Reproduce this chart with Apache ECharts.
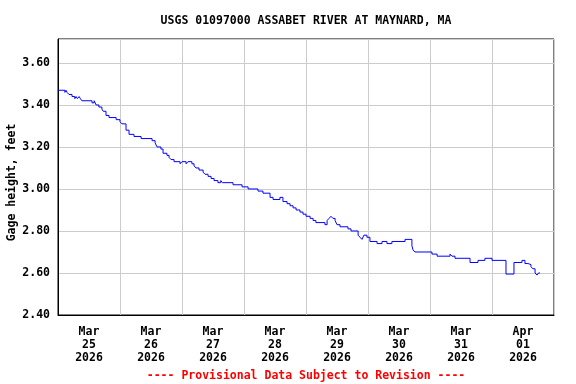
<!DOCTYPE html>
<html><head><meta charset="utf-8">
<script src="https://cdn.jsdelivr.net/npm/echarts@6/dist/echarts.min.js"></script>
<style>html,body{margin:0;padding:0;background:#fff}#c{width:576px;height:384px}</style>
</head><body><div id="c"></div>
<script>
const titleText = 'USGS 01097000 ASSABET RIVER AT MAYNARD, MA';
const footText = '---- Provisional Data Subject to Revision ----';
const yAxisName = 'Gage height, feet';
const yTicks = [2.40, 2.60, 2.80, 3.00, 3.20, 3.40, 3.60];
const dayLabels = ['2026-03-25','2026-03-26','2026-03-27','2026-03-28','2026-03-29','2026-03-30','2026-03-31','2026-04-01'];
const monthNames = ['Jan','Feb','Mar','Apr','May','Jun','Jul','Aug','Sep','Oct','Nov','Dec'];

const times = [
'2026-03-25T00:00','2026-03-25T02:40','2026-03-25T03:05','2026-03-25T03:30','2026-03-25T04:15','2026-03-25T05:25',
'2026-03-25T06:30','2026-03-25T07:00','2026-03-25T07:30','2026-03-25T08:10','2026-03-25T08:40','2026-03-25T09:15',
'2026-03-25T13:10','2026-03-25T14:00','2026-03-25T14:45','2026-03-25T15:50','2026-03-25T17:00','2026-03-25T17:30',
'2026-03-25T18:35','2026-03-25T19:45','2026-03-25T22:30','2026-03-26T00:00','2026-03-26T00:45','2026-03-26T02:20',
'2026-03-26T03:30','2026-03-26T05:25','2026-03-26T08:10','2026-03-26T12:25','2026-03-26T13:35','2026-03-26T14:20',
'2026-03-26T15:50','2026-03-26T16:40','2026-03-26T18:10','2026-03-26T19:00','2026-03-26T19:45','2026-03-26T20:55',
'2026-03-26T23:15','2026-03-27T00:00','2026-03-27T01:35','2026-03-27T02:20','2026-03-27T03:50','2026-03-27T04:40',
'2026-03-27T05:25','2026-03-27T06:35','2026-03-27T08:10','2026-03-27T08:55','2026-03-27T10:05','2026-03-27T11:15',
'2026-03-27T12:25','2026-03-27T13:55','2026-03-27T15:00','2026-03-27T15:40','2026-03-27T19:45','2026-03-27T23:15',
'2026-03-28T01:35','2026-03-28T05:25','2026-03-28T07:20','2026-03-28T10:05','2026-03-28T11:15','2026-03-28T13:55',
'2026-03-28T15:05','2026-03-28T16:40','2026-03-28T17:50','2026-03-28T19:00','2026-03-28T20:10','2026-03-28T21:40',
'2026-03-28T22:50','2026-03-29T00:00','2026-03-29T01:35','2026-03-29T02:45','2026-03-29T03:50','2026-03-29T07:20',
'2026-03-29T08:10','2026-03-29T08:55','2026-03-29T09:40','2026-03-29T10:25','2026-03-29T11:15','2026-03-29T12:00',
'2026-03-29T13:10','2026-03-29T16:15','2026-03-29T17:25','2026-03-29T20:10','2026-03-29T20:55','2026-03-29T21:40',
'2026-03-29T22:25','2026-03-29T23:35','2026-03-30T00:45','2026-03-30T03:30','2026-03-30T05:25','2026-03-30T07:20',
'2026-03-30T09:15','2026-03-30T14:20','2026-03-30T17:00','2026-03-30T17:25','2026-03-30T18:10','2026-03-31T00:45',
'2026-03-31T02:45','2026-03-31T07:45','2026-03-31T08:30','2026-03-31T09:40','2026-03-31T15:30','2026-03-31T18:35',
'2026-03-31T21:15','2026-04-01T00:00','2026-04-01T05:25','2026-04-01T08:30','2026-04-01T11:35','2026-04-01T12:45',
'2026-04-01T13:55','2026-04-01T15:05','2026-04-01T15:50','2026-04-01T16:40','2026-04-01T17:25','2026-04-01T18:00',
'2026-04-01T18:35'
];
const gage = [
3.47,3.46,3.47,3.46,3.45,3.44,
3.43,3.44,3.43,3.44,3.43,3.42,
3.41,3.42,3.40,3.39,3.38,3.37,
3.35,3.34,3.33,3.32,3.31,3.28,
3.26,3.25,3.24,3.23,3.22,3.20,
3.19,3.17,3.16,3.15,3.14,3.13,
3.12,3.13,3.12,3.13,3.12,3.11,
3.10,3.09,3.08,3.07,3.06,3.05,
3.04,3.03,3.04,3.03,3.02,3.01,
3.00,2.99,2.98,2.96,2.95,2.96,
2.94,2.93,2.92,2.91,2.90,2.89,
2.88,2.87,2.86,2.85,2.84,2.83,
2.85,2.86,2.87,2.86,2.85,2.83,
2.82,2.81,2.80,2.78,2.77,2.76,
2.78,2.77,2.75,2.74,2.75,2.74,
2.75,2.76,2.73,2.71,2.70,2.69,
2.68,2.69,2.68,2.67,2.65,2.66,
2.67,2.66,2.595,2.65,2.66,2.645,
2.64,2.63,2.62,2.60,2.59,2.60,
2.60
];

const DAY = 86400000;
const toMs = s => Date.parse(s + (s.length <= 10 ? 'T00:00' : '') + ':00Z');
const xStart = toMs(dayLabels[0]);
const xEnd = xStart + (dayLabels.length) * DAY;
const labelNoons = dayLabels.map(d => toMs(d) + DAY / 2);
const seriesData = times.map((t, i) => [toMs(t), gage[i]]);

const FONT = 'DejaVu Sans Mono';
const txt = { fontFamily: FONT, fontWeight: 'bold', fontSize: 11.5, color: '#000' };

const chart = echarts.init(document.getElementById('c'), null, { renderer: 'canvas' });
chart.setOption({
  animation: false,
  backgroundColor: '#fff',
  title: [
    { text: titleText, left: 306, top: 15, textAlign: 'center', padding: 0,
      textStyle: Object.assign({}, txt, { lineHeight: 12 }) },
    { text: footText, left: 306, top: 370, textAlign: 'center', padding: 0,
      textStyle: Object.assign({}, txt, { color: '#ff0000', lineHeight: 12 }) }
  ],
  grid: { left: 58, right: 22, top: 39, bottom: 69, containLabel: false, outerBoundsMode: 'none',
          show: true, borderColor: '#000', borderWidth: 1, backgroundColor: 'transparent' },
  xAxis: [
    { type: 'value', min: xStart, max: xEnd, interval: DAY, position: 'bottom',
      axisLine: { show: true, lineStyle: { color: '#000', width: 1 } },
      axisTick: { show: false }, axisLabel: { show: false },
      splitLine: { show: true, lineStyle: { color: '#cccccc', width: 1 } } },
    { type: 'value', min: xStart, max: xEnd, position: 'bottom',
      axisLine: { show: false }, axisTick: { show: false }, splitLine: { show: false },
      axisLabel: Object.assign({}, txt, {
        customValues: labelNoons, margin: 11, lineHeight: 13,
        formatter: v => { const d = new Date(v); return monthNames[d.getUTCMonth()] + '\n' + String(d.getUTCDate()).padStart(2, '0') + '\n' + d.getUTCFullYear(); }
      }) }
  ],
  yAxis: {
    type: 'value', min: yTicks[0], max: 3.714, interval: 0.2,
    name: yAxisName, nameLocation: 'middle', nameGap: 40, nameRotate: 90, nameMoveOverlap: false,
    nameTextStyle: Object.assign({}, txt, { padding: [0, 11, 0, 0] }),
    axisLine: { show: true, lineStyle: { color: '#000', width: 1 } },
    axisTick: { show: false },
    axisLabel: Object.assign({}, txt, { margin: 8, showMaxLabel: false, formatter: v => v.toFixed(2) }),
    splitLine: { show: true, lineStyle: { color: '#cccccc', width: 1 } }
  },
  series: [{
    type: 'line', xAxisIndex: 0, data: seriesData, step: 'end', showSymbol: false, symbol: 'none',
    lineStyle: { color: '#0000ff', width: 1 }, silent: true
  }]
});
</script>
</body></html>
